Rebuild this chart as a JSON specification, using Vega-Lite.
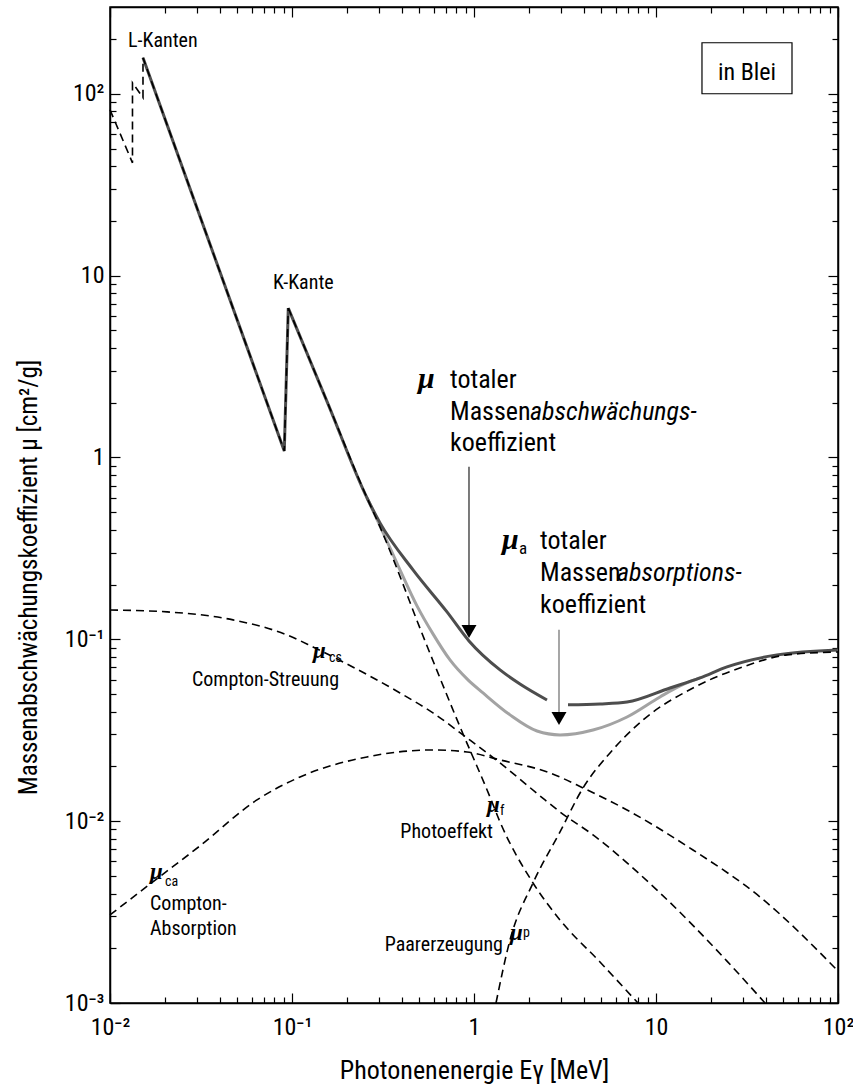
{
  "$schema": "https://vega.github.io/schema/vega-lite/v6.json",
  "width": 728,
  "height": 996,
  "autosize": {"type": "none"},
  "padding": {"left": 110, "top": 7, "right": 15, "bottom": 83},
  "background": "white",
  "config": {
    "font": "Roboto Condensed, DejaVu Sans Condensed, Liberation Sans",
    "view": {"stroke": "black", "strokeWidth": 1.5},
    "axis": {
      "grid": false,
      "domainColor": "black",
      "domainWidth": 1.5,
      "tickColor": "black",
      "tickWidth": 1.2,
      "labelColor": "black",
      "titleColor": "black",
      "labelFont": "Roboto Condensed, DejaVu Sans Condensed, Liberation Sans",
      "titleFont": "Roboto Condensed, DejaVu Sans Condensed, Liberation Sans",
      "titleFontWeight": "normal",
      "labelOverlap": false,
      "labelFlush": false,
      "labelBound": false
    },
    "text": {"font": "Roboto Condensed, DejaVu Sans Condensed, Liberation Sans", "color": "black"}
  },
  "datasets": {
    "box": [{"E": 17.89, "E2": 55.88, "mu": 100, "mu2": 190.8}],
    "photo_edges": [
      {"E": 0.01, "mu": 81.7},
      {"E": 0.01329, "mu": 41.7},
      {"E": 0.01329, "mu": 115},
      {"E": 0.01518, "mu": 95.1},
      {"E": 0.01518, "mu": 157.8},
      {"E": 0.0907, "mu": 1.086},
      {"E": 0.0954, "mu": 6.63}
    ],
    "total_edges": [
      {"E": 0.01518, "mu": 157.8},
      {"E": 0.0907, "mu": 1.086},
      {"E": 0.0954, "mu": 6.63}
    ],
    "total": [
      {"part": "low", "E": 0.0954, "mu": 6.63},
      {"part": "low", "E": 0.1577, "mu": 1.972},
      {"part": "low", "E": 0.2583, "mu": 0.5995},
      {"part": "low", "E": 0.3044, "mu": 0.4368},
      {"part": "low", "E": 0.4623, "mu": 0.2408},
      {"part": "low", "E": 0.7106, "mu": 0.1415},
      {"part": "low", "E": 0.9386, "mu": 0.098},
      {"part": "low", "E": 1.39, "mu": 0.0679},
      {"part": "low", "E": 1.789, "mu": 0.0568},
      {"part": "low", "E": 2.518, "mu": 0.0464},
      {"part": "high", "E": 3.285, "mu": 0.0436},
      {"part": "high", "E": 4.924, "mu": 0.0441},
      {"part": "high", "E": 6.93, "mu": 0.0452},
      {"part": "high", "E": 11.94, "mu": 0.054},
      {"part": "high", "E": 17.45, "mu": 0.0613},
      {"part": "high", "E": 24.55, "mu": 0.0705},
      {"part": "high", "E": 46.2, "mu": 0.0821},
      {"part": "high", "E": 100, "mu": 0.0874}
    ],
    "absorption": [
      {"E": 0.2583, "mu": 0.5995},
      {"E": 0.3044, "mu": 0.4205},
      {"E": 0.392, "mu": 0.2408},
      {"E": 0.4861, "mu": 0.1527},
      {"E": 0.595, "mu": 0.1071},
      {"E": 0.738, "mu": 0.077},
      {"E": 0.9268, "mu": 0.0598},
      {"E": 1.121, "mu": 0.0507},
      {"E": 1.577, "mu": 0.0384},
      {"E": 2.219, "mu": 0.0313},
      {"E": 2.969, "mu": 0.0298},
      {"E": 4.507, "mu": 0.0317},
      {"E": 6.93, "mu": 0.0374},
      {"E": 10.52, "mu": 0.0482},
      {"E": 13.55, "mu": 0.0554},
      {"E": 17.45, "mu": 0.0613}
    ],
    "partial": [
      {"curve": "photo", "E": 0.0954, "mu": 6.63},
      {"curve": "photo", "E": 0.1577, "mu": 1.972},
      {"curve": "photo", "E": 0.2583, "mu": 0.5995},
      {"curve": "photo", "E": 0.3044, "mu": 0.4153},
      {"curve": "photo", "E": 0.538, "mu": 0.098},
      {"curve": "photo", "E": 0.838, "mu": 0.033},
      {"curve": "photo", "E": 1.224, "mu": 0.01358},
      {"curve": "photo", "E": 1.39, "mu": 0.0099},
      {"curve": "photo", "E": 2.11, "mu": 0.004572},
      {"curve": "photo", "E": 2.969, "mu": 0.002861},
      {"curve": "photo", "E": 4.924, "mu": 0.00168},
      {"curve": "photo", "E": 7.96, "mu": 0.001},
      {"curve": "compton_scatter", "E": 0.01, "mu": 0.145},
      {"curve": "compton_scatter", "E": 0.0206, "mu": 0.1415},
      {"curve": "compton_scatter", "E": 0.0474, "mu": 0.1279},
      {"curve": "compton_scatter", "E": 0.0939, "mu": 0.1057},
      {"curve": "compton_scatter", "E": 0.1304, "mu": 0.0908},
      {"curve": "compton_scatter", "E": 0.1906, "mu": 0.0751},
      {"curve": "compton_scatter", "E": 0.392, "mu": 0.0507},
      {"curve": "compton_scatter", "E": 0.595, "mu": 0.0394},
      {"curve": "compton_scatter", "E": 0.915, "mu": 0.0287},
      {"curve": "compton_scatter", "E": 1.39, "mu": 0.0209},
      {"curve": "compton_scatter", "E": 2.455, "mu": 0.01308},
      {"curve": "compton_scatter", "E": 2.969, "mu": 0.01124},
      {"curve": "compton_scatter", "E": 4.507, "mu": 0.0084},
      {"curve": "compton_scatter", "E": 10.52, "mu": 0.00403},
      {"curve": "compton_scatter", "E": 24.55, "mu": 0.0017},
      {"curve": "compton_scatter", "E": 39.7, "mu": 0.001},
      {"curve": "compton_absorb", "E": 0.01, "mu": 0.00305},
      {"curve": "compton_absorb", "E": 0.0166, "mu": 0.00451},
      {"curve": "compton_absorb", "E": 0.0312, "mu": 0.00731},
      {"curve": "compton_absorb", "E": 0.0642, "mu": 0.01308},
      {"curve": "compton_absorb", "E": 0.1107, "mu": 0.0175},
      {"curve": "compton_absorb", "E": 0.2583, "mu": 0.02255},
      {"curve": "compton_absorb", "E": 0.595, "mu": 0.02464},
      {"curve": "compton_absorb", "E": 0.915, "mu": 0.02402},
      {"curve": "compton_absorb", "E": 1.39, "mu": 0.02172},
      {"curve": "compton_absorb", "E": 2.616, "mu": 0.01841},
      {"curve": "compton_absorb", "E": 3.972, "mu": 0.01523},
      {"curve": "compton_absorb", "E": 6.93, "mu": 0.01152},
      {"curve": "compton_absorb", "E": 15.97, "mu": 0.00694},
      {"curve": "compton_absorb", "E": 37.27, "mu": 0.00383},
      {"curve": "compton_absorb", "E": 100, "mu": 0.0015},
      {"curve": "pair", "E": 1.321, "mu": 0.001},
      {"curve": "pair", "E": 1.577, "mu": 0.00222},
      {"curve": "pair", "E": 2.11, "mu": 0.004572},
      {"curve": "pair", "E": 2.969, "mu": 0.00872},
      {"curve": "pair", "E": 3.972, "mu": 0.01523},
      {"curve": "pair", "E": 5.588, "mu": 0.02372},
      {"curve": "pair", "E": 8.483, "mu": 0.036},
      {"curve": "pair", "E": 15.97, "mu": 0.054},
      {"curve": "pair", "E": 30.06, "mu": 0.0705},
      {"curve": "pair", "E": 52.5, "mu": 0.0821},
      {"curve": "pair", "E": 100, "mu": 0.0852}
    ],
    "arrow_total": [{"E": 0.9386, "mu": 0.888, "mu2": 0.1155}],
    "arrow_absorption": [{"E": 2.931, "mu": 0.1127, "mu2": 0.0384}],
    "arrow_heads": [{"E": 0.9386, "mu": 0.1018}, {"E": 2.931, "mu": 0.0338}],
    "box_text": [{"E": 31.62, "mu": 119.4, "label": "in Blei"}],
    "big_roman": [
      {"E": 0.738, "mu": 2.414, "label": "totaler"},
      {"E": 0.738, "mu": 1.61, "label": "Massen"},
      {"E": 0.738, "mu": 1.087, "label": "koeffizient"},
      {"E": 2.305, "mu": 0.3142, "label": "totaler"},
      {"E": 2.305, "mu": 0.2096, "label": "Massen"},
      {"E": 2.305, "mu": 0.1397, "label": "koeffizient"}
    ],
    "big_italic": [
      {"E": 2.031, "mu": 1.61, "label": "abschwächungs-"},
      {"E": 6.105, "mu": 0.2096, "label": "absorptions-"}
    ],
    "big_mu": [
      {"E": 0.4923, "mu": 2.414, "label": "μ"},
      {"E": 1.4249, "mu": 0.3142, "label": "μ"}
    ],
    "big_sub": [{"E": 1.7668, "mu": 0.295, "label": "a"}],
    "small_left": [
      {"E": 0.01256, "mu": 181.4, "label": "L-Kanten"},
      {"E": 0.0786, "mu": 8.46, "label": "K-Kante"},
      {"E": 0.02821, "mu": 0.05543, "label": "Compton-Streuung"},
      {"E": 0.01659, "mu": 0.003248, "label": "Compton-"},
      {"E": 0.01659, "mu": 0.002366, "label": "Absorption"}
    ],
    "small_right": [
      {"E": 1.2718, "mu": 0.00808, "label": "Photoeffekt"},
      {"E": 1.443, "mu": 0.001932, "label": "Paarerzeugung"}
    ],
    "small_mu": [
      {"E": 0.1304, "mu": 0.079, "label": "μ"},
      {"E": 0.01659, "mu": 0.00481, "label": "μ"},
      {"E": 1.179, "mu": 0.01124, "label": "μ"},
      {"E": 1.577, "mu": 0.00222, "label": "μ"}
    ],
    "small_sub": [
      {"E": 0.1597, "mu": 0.0751, "label": "cs"},
      {"E": 0.02006, "mu": 0.004402, "label": "ca"},
      {"E": 1.3897, "mu": 0.01082, "label": "f"},
      {"E": 1.858, "mu": 0.002307, "label": "p"}
    ]
  },
  "layer": [
    {
      "data": {"name": "box"},
      "mark": {"type": "rect", "fill": "white", "stroke": "black", "strokeWidth": 1.2},
      "encoding": {
        "x": {
          "field": "E", "type": "quantitative",
          "scale": {"type": "log", "domain": [0.01, 100], "nice": false},
          "axis": {
            "orient": "top", "labels": false, "title": null,
            "values": [0.01,0.02,0.03,0.04,0.05,0.06,0.07,0.08,0.09,0.1,0.2,0.3,0.4,0.5,0.6,0.7,0.8,0.9,1,2,3,4,5,6,7,8,9,10,20,30,40,50,60,70,80,90,100],
            "tickSize": {"condition": {"test": "abs(log(datum.value)/LN10 - round(log(datum.value)/LN10)) < 0.001", "value": -10}, "value": -6}
          }
        },
        "x2": {"field": "E2"},
        "y": {
          "field": "mu", "type": "quantitative",
          "scale": {"type": "log", "domain": [0.001, 300], "nice": false},
          "axis": {
            "orient": "right", "labels": false, "title": null,
            "values": [0.001,0.002,0.003,0.004,0.005,0.006,0.007,0.008,0.009,0.01,0.02,0.03,0.04,0.05,0.06,0.07,0.08,0.09,0.1,0.2,0.3,0.4,0.5,0.6,0.7,0.8,0.9,1,2,3,4,5,6,7,8,9,10,20,30,40,50,60,70,80,90,100,200],
            "tickSize": {"condition": {"test": "abs(log(datum.value)/LN10 - round(log(datum.value)/LN10)) < 0.001", "value": -10}, "value": -6}
          }
        },
        "y2": {"field": "mu2"}
      }
    },
    {
      "encoding": {
        "x": {
          "field": "E", "type": "quantitative",
          "scale": {"type": "log", "domain": [0.01, 100], "nice": false},
          "axis": {
            "orient": "bottom",
            "values": [0.01,0.02,0.03,0.04,0.05,0.06,0.07,0.08,0.09,0.1,0.2,0.3,0.4,0.5,0.6,0.7,0.8,0.9,1,2,3,4,5,6,7,8,9,10,20,30,40,50,60,70,80,90,100],
            "labelExpr": "abs(log(datum.value)/LN10 - round(log(datum.value)/LN10)) > 0.001 ? '' : round(log(datum.value)/LN10) == 0 ? '1' : round(log(datum.value)/LN10) == 1 ? '10' : round(log(datum.value)/LN10) == 2 ? '10²' : round(log(datum.value)/LN10) == -1 ? '10⁻¹' : round(log(datum.value)/LN10) == -2 ? '10⁻²' : '10⁻³'",
            "labelFontSize": 24,
            "labelPadding": 22,
            "tickSize": {"condition": {"test": "abs(log(datum.value)/LN10 - round(log(datum.value)/LN10)) < 0.001", "value": -10}, "value": -6},
            "title": "Photonenenergie Eγ [MeV]",
            "titleFontSize": 26,
            "titleY": 75,
            "titleBaseline": "alphabetic"
          }
        },
        "y": {
          "field": "mu", "type": "quantitative",
          "scale": {"type": "log", "domain": [0.001, 300], "nice": false},
          "axis": {
            "orient": "left",
            "values": [0.001,0.002,0.003,0.004,0.005,0.006,0.007,0.008,0.009,0.01,0.02,0.03,0.04,0.05,0.06,0.07,0.08,0.09,0.1,0.2,0.3,0.4,0.5,0.6,0.7,0.8,0.9,1,2,3,4,5,6,7,8,9,10,20,30,40,50,60,70,80,90,100,200],
            "labelExpr": "abs(log(datum.value)/LN10 - round(log(datum.value)/LN10)) > 0.001 ? '' : round(log(datum.value)/LN10) == 0 ? '1' : round(log(datum.value)/LN10) == 1 ? '10' : round(log(datum.value)/LN10) == 2 ? '10²' : round(log(datum.value)/LN10) == -1 ? '10⁻¹' : round(log(datum.value)/LN10) == -2 ? '10⁻²' : '10⁻³'",
            "labelFontSize": 24,
            "labelPadding": 16,
            "tickSize": {"condition": {"test": "abs(log(datum.value)/LN10 - round(log(datum.value)/LN10)) < 0.001", "value": -10}, "value": -6},
            "title": "Massenabschwächungskoeffizient μ [cm²/g]",
            "titleFontSize": 25,
            "titleAngle": -90,
            "titleX": -82,
            "titleY": 570,
            "titleAlign": "center",
            "titleBaseline": "middle"
          }
        }
      },
      "layer": [
        {
          "data": {"name": "absorption"},
          "mark": {"type": "line", "color": "#a3a3a3", "strokeWidth": 3, "interpolate": "monotone"},
          "encoding": {"order": {"value": null}}
        },
        {
          "data": {"name": "total_edges"},
          "mark": {"type": "line", "color": "#4d4d4d", "strokeWidth": 3, "interpolate": "linear"},
          "encoding": {"order": {"value": null}}
        },
        {
          "data": {"name": "total"},
          "mark": {"type": "line", "color": "#4d4d4d", "strokeWidth": 3, "interpolate": "monotone"},
          "encoding": {"detail": {"field": "part"}, "order": {"value": null}}
        },
        {
          "data": {"name": "photo_edges"},
          "mark": {"type": "line", "color": "black", "strokeWidth": 1.6, "strokeDash": [8, 5], "interpolate": "linear"},
          "encoding": {"order": {"value": null}}
        },
        {
          "data": {"name": "partial"},
          "mark": {"type": "line", "color": "black", "strokeWidth": 1.6, "strokeDash": [8, 5], "interpolate": "monotone"},
          "encoding": {"detail": {"field": "curve"}, "order": {"value": null}}
        },
        {
          "data": {"name": "arrow_total"},
          "mark": {"type": "rule", "color": "#222222", "strokeWidth": 1.2},
          "encoding": {"y2": {"field": "mu2"}}
        },
        {
          "data": {"name": "arrow_absorption"},
          "mark": {"type": "rule", "color": "#777777", "strokeWidth": 1.3},
          "encoding": {"y2": {"field": "mu2"}}
        },
        {
          "data": {"name": "arrow_heads"},
          "mark": {"type": "point", "shape": "triangle-down", "size": 225, "filled": true, "color": "black", "opacity": 1, "yOffset": -6.5}
        },
        {
          "data": {"name": "box_text"},
          "mark": {"type": "text", "fontSize": 24, "align": "center", "baseline": "alphabetic"},
          "encoding": {"text": {"field": "label"}}
        },
        {
          "data": {"name": "big_roman"},
          "mark": {"type": "text", "fontSize": 26, "align": "left", "baseline": "alphabetic"},
          "encoding": {"text": {"field": "label"}}
        },
        {
          "data": {"name": "big_italic"},
          "mark": {"type": "text", "fontSize": 26, "fontStyle": "italic", "align": "left", "baseline": "alphabetic"},
          "encoding": {"text": {"field": "label"}}
        },
        {
          "data": {"name": "big_mu"},
          "mark": {"type": "text", "font": "Liberation Serif", "fontSize": 30, "fontStyle": "italic", "fontWeight": "bold", "align": "left", "baseline": "alphabetic"},
          "encoding": {"text": {"field": "label"}}
        },
        {
          "data": {"name": "big_sub"},
          "mark": {"type": "text", "fontSize": 17, "align": "left", "baseline": "alphabetic"},
          "encoding": {"text": {"field": "label"}}
        },
        {
          "data": {"name": "small_left"},
          "mark": {"type": "text", "fontSize": 20, "align": "left", "baseline": "alphabetic"},
          "encoding": {"text": {"field": "label"}}
        },
        {
          "data": {"name": "small_right"},
          "mark": {"type": "text", "fontSize": 20, "align": "right", "baseline": "alphabetic"},
          "encoding": {"text": {"field": "label"}}
        },
        {
          "data": {"name": "small_mu"},
          "mark": {"type": "text", "font": "Liberation Serif", "fontSize": 23, "fontStyle": "italic", "fontWeight": "bold", "align": "left", "baseline": "alphabetic"},
          "encoding": {"text": {"field": "label"}}
        },
        {
          "data": {"name": "small_sub"},
          "mark": {"type": "text", "fontSize": 14, "align": "left", "baseline": "alphabetic"},
          "encoding": {"text": {"field": "label"}}
        }
      ]
    }
  ],
  "resolve": {"axis": {"x": "independent", "y": "independent"}}
}
